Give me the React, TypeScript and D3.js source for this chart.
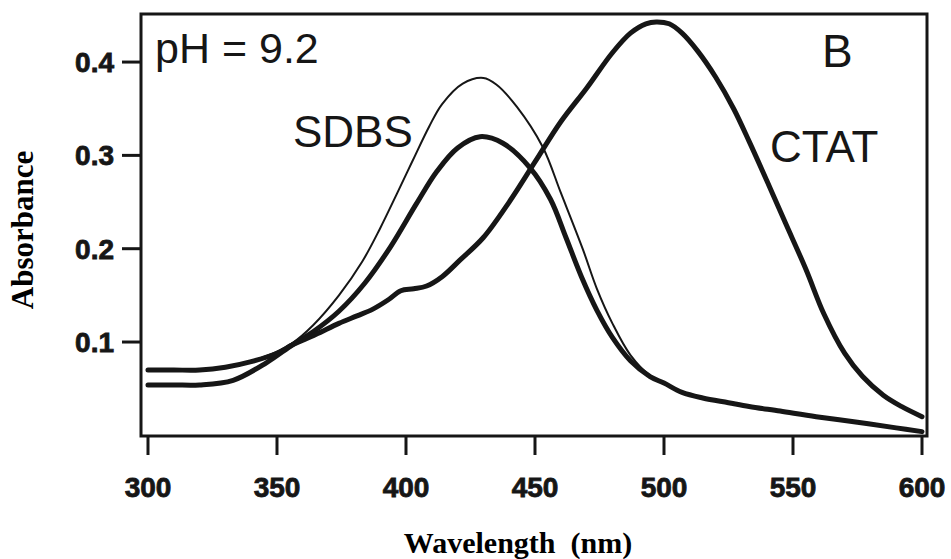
import React from 'react'
import * as d3 from 'd3'

// wavelengths (nm) and absorbance
const sdbsThinNm = [300, 310, 320, 333, 346, 356, 364, 374, 383, 390, 396.5, 402.7, 409, 414, 422, 430, 435, 443, 453, 460, 468.6, 474, 480, 487, 494.6, 500, 507, 515, 525, 533, 545, 559, 575, 590, 600]
const sdbsThinAbs = [0.069, 0.069, 0.07, 0.075, 0.085, 0.099, 0.118, 0.15, 0.186, 0.222, 0.259, 0.295, 0.331, 0.355, 0.377, 0.383, 0.376, 0.352, 0.309, 0.26, 0.199, 0.157, 0.12, 0.086, 0.064, 0.056, 0.046, 0.04, 0.035, 0.031, 0.026, 0.02, 0.014, 0.008, 0.004]

const sdbsThickNm = [300, 310, 320, 333, 346, 356, 364, 374, 384, 394, 404, 412, 420, 428.7, 437.6, 448, 456, 462, 468, 474, 480, 487, 494.6, 500, 507, 515, 525, 533, 545, 559, 575, 590, 600]
const sdbsThickAbs = [0.054, 0.054, 0.054, 0.059, 0.078, 0.097, 0.111, 0.133, 0.163, 0.202, 0.248, 0.283, 0.308, 0.32, 0.313, 0.287, 0.253, 0.212, 0.17, 0.134, 0.105, 0.08, 0.063, 0.056, 0.046, 0.04, 0.035, 0.031, 0.026, 0.02, 0.014, 0.008, 0.004]

const ctatNm = [300, 310, 320, 330, 340, 350, 356, 365, 374, 381, 387, 393, 398, 403, 408, 414, 421, 430, 440, 450, 460, 470, 480, 487, 493, 497, 502, 507, 513, 520, 527, 533, 540, 547, 555, 562, 570, 577, 585, 592, 600]
const ctatAbs = [0.07, 0.07, 0.07, 0.073, 0.079, 0.088, 0.097, 0.108, 0.12, 0.128, 0.135, 0.145, 0.155, 0.157, 0.16, 0.17, 0.188, 0.212, 0.25, 0.293, 0.336, 0.372, 0.41, 0.431, 0.441, 0.443, 0.441, 0.431, 0.412, 0.384, 0.35, 0.315, 0.272, 0.228, 0.178, 0.13, 0.088, 0.063, 0.043, 0.031, 0.02]

const xTicks = [300, 350, 400, 450, 500, 550, 600]
const yTicks = [0.1, 0.2, 0.3, 0.4]

const W = 951
const H = 559
const left = 141, right = 927, top = 14, bottom = 436

const sans = '"Liberation Sans", Arial, sans-serif'
const serif = '"Liberation Serif", "Times New Roman", serif'
const ink = '#161616'

const App = () => {
  const x = d3.scaleLinear().domain([297.29, 601.94]).range([left, right])
  const y = d3.scaleLinear().domain([-0.0007, 0.4515]).range([bottom, top])

  const line = d3.line<[number, number]>()
    .x(d => x(d[0]))
    .y(d => y(d[1]))
    .curve(d3.curveCatmullRom.alpha(0.5))

  const zip = (a: number[], b: number[]) => a.map((v, i) => [v, b[i]] as [number, number])

  const series = [
    {pts: zip(sdbsThinNm, sdbsThinAbs), w: 2},
    {pts: zip(sdbsThickNm, sdbsThickAbs), w: 5},
    {pts: zip(ctatNm, ctatAbs), w: 5}
  ]

  return (
    <svg width={W} height={H} style={{position: 'absolute', left: 0, top: 0, background: '#fff'}}>
      <g>
        {series.map((s, i) =>
          <path key={i} d={line(s.pts) || ''} fill="none" stroke={ink} strokeWidth={s.w} strokeLinejoin="round" strokeLinecap="round"/>
        )}
      </g>
      <rect x={left} y={top} width={right - left} height={bottom - top} fill="none" stroke={ink} strokeWidth={3}/>
      <g>
        {xTicks.map(t =>
          <g key={t}>
            <line x1={x(t)} x2={x(t)} y1={bottom} y2={bottom + 19} stroke={ink} strokeWidth={3}/>
            <text x={x(t)} y={497} textAnchor="middle" fontFamily={sans} fontWeight="bold" fontSize={28} fill={ink} stroke={ink} strokeWidth={0.8}>{t}</text>
          </g>
        )}
      </g>
      <g>
        {yTicks.map(t =>
          <g key={t}>
            <line x1={left - 19} x2={left} y1={y(t)} y2={y(t)} stroke={ink} strokeWidth={3}/>
            <text x={114} y={y(t)} dy="0.36em" textAnchor="end" fontFamily={sans} fontWeight="bold" fontSize={28} fill={ink} stroke={ink} strokeWidth={0.8}>{t.toFixed(1)}</text>
          </g>
        )}
      </g>
      <text x={155} y={63} fontFamily={sans} fontSize={43} fill={ink}>pH = 9.2</text>
      <text x={293} y={147} fontFamily={sans} fontSize={44} fill={ink}>SDBS</text>
      <text x={770} y={162} fontFamily={sans} fontSize={44} fill={ink}>CTAT</text>
      <text x={822} y={67} fontFamily={sans} fontSize={46} fill={ink}>B</text>
      <text x={518} y={553} textAnchor="middle" fontFamily={serif} fontWeight="bold" fontSize={30} fill="#000" style={{whiteSpace: 'pre'}}>{'Wavelength  (nm)'}</text>
      <text transform="translate(33,230) rotate(-90)" textAnchor="middle" fontFamily={serif} fontWeight="bold" fontSize={31} fill="#000">Absorbance</text>
    </svg>
  )
}

export default App
